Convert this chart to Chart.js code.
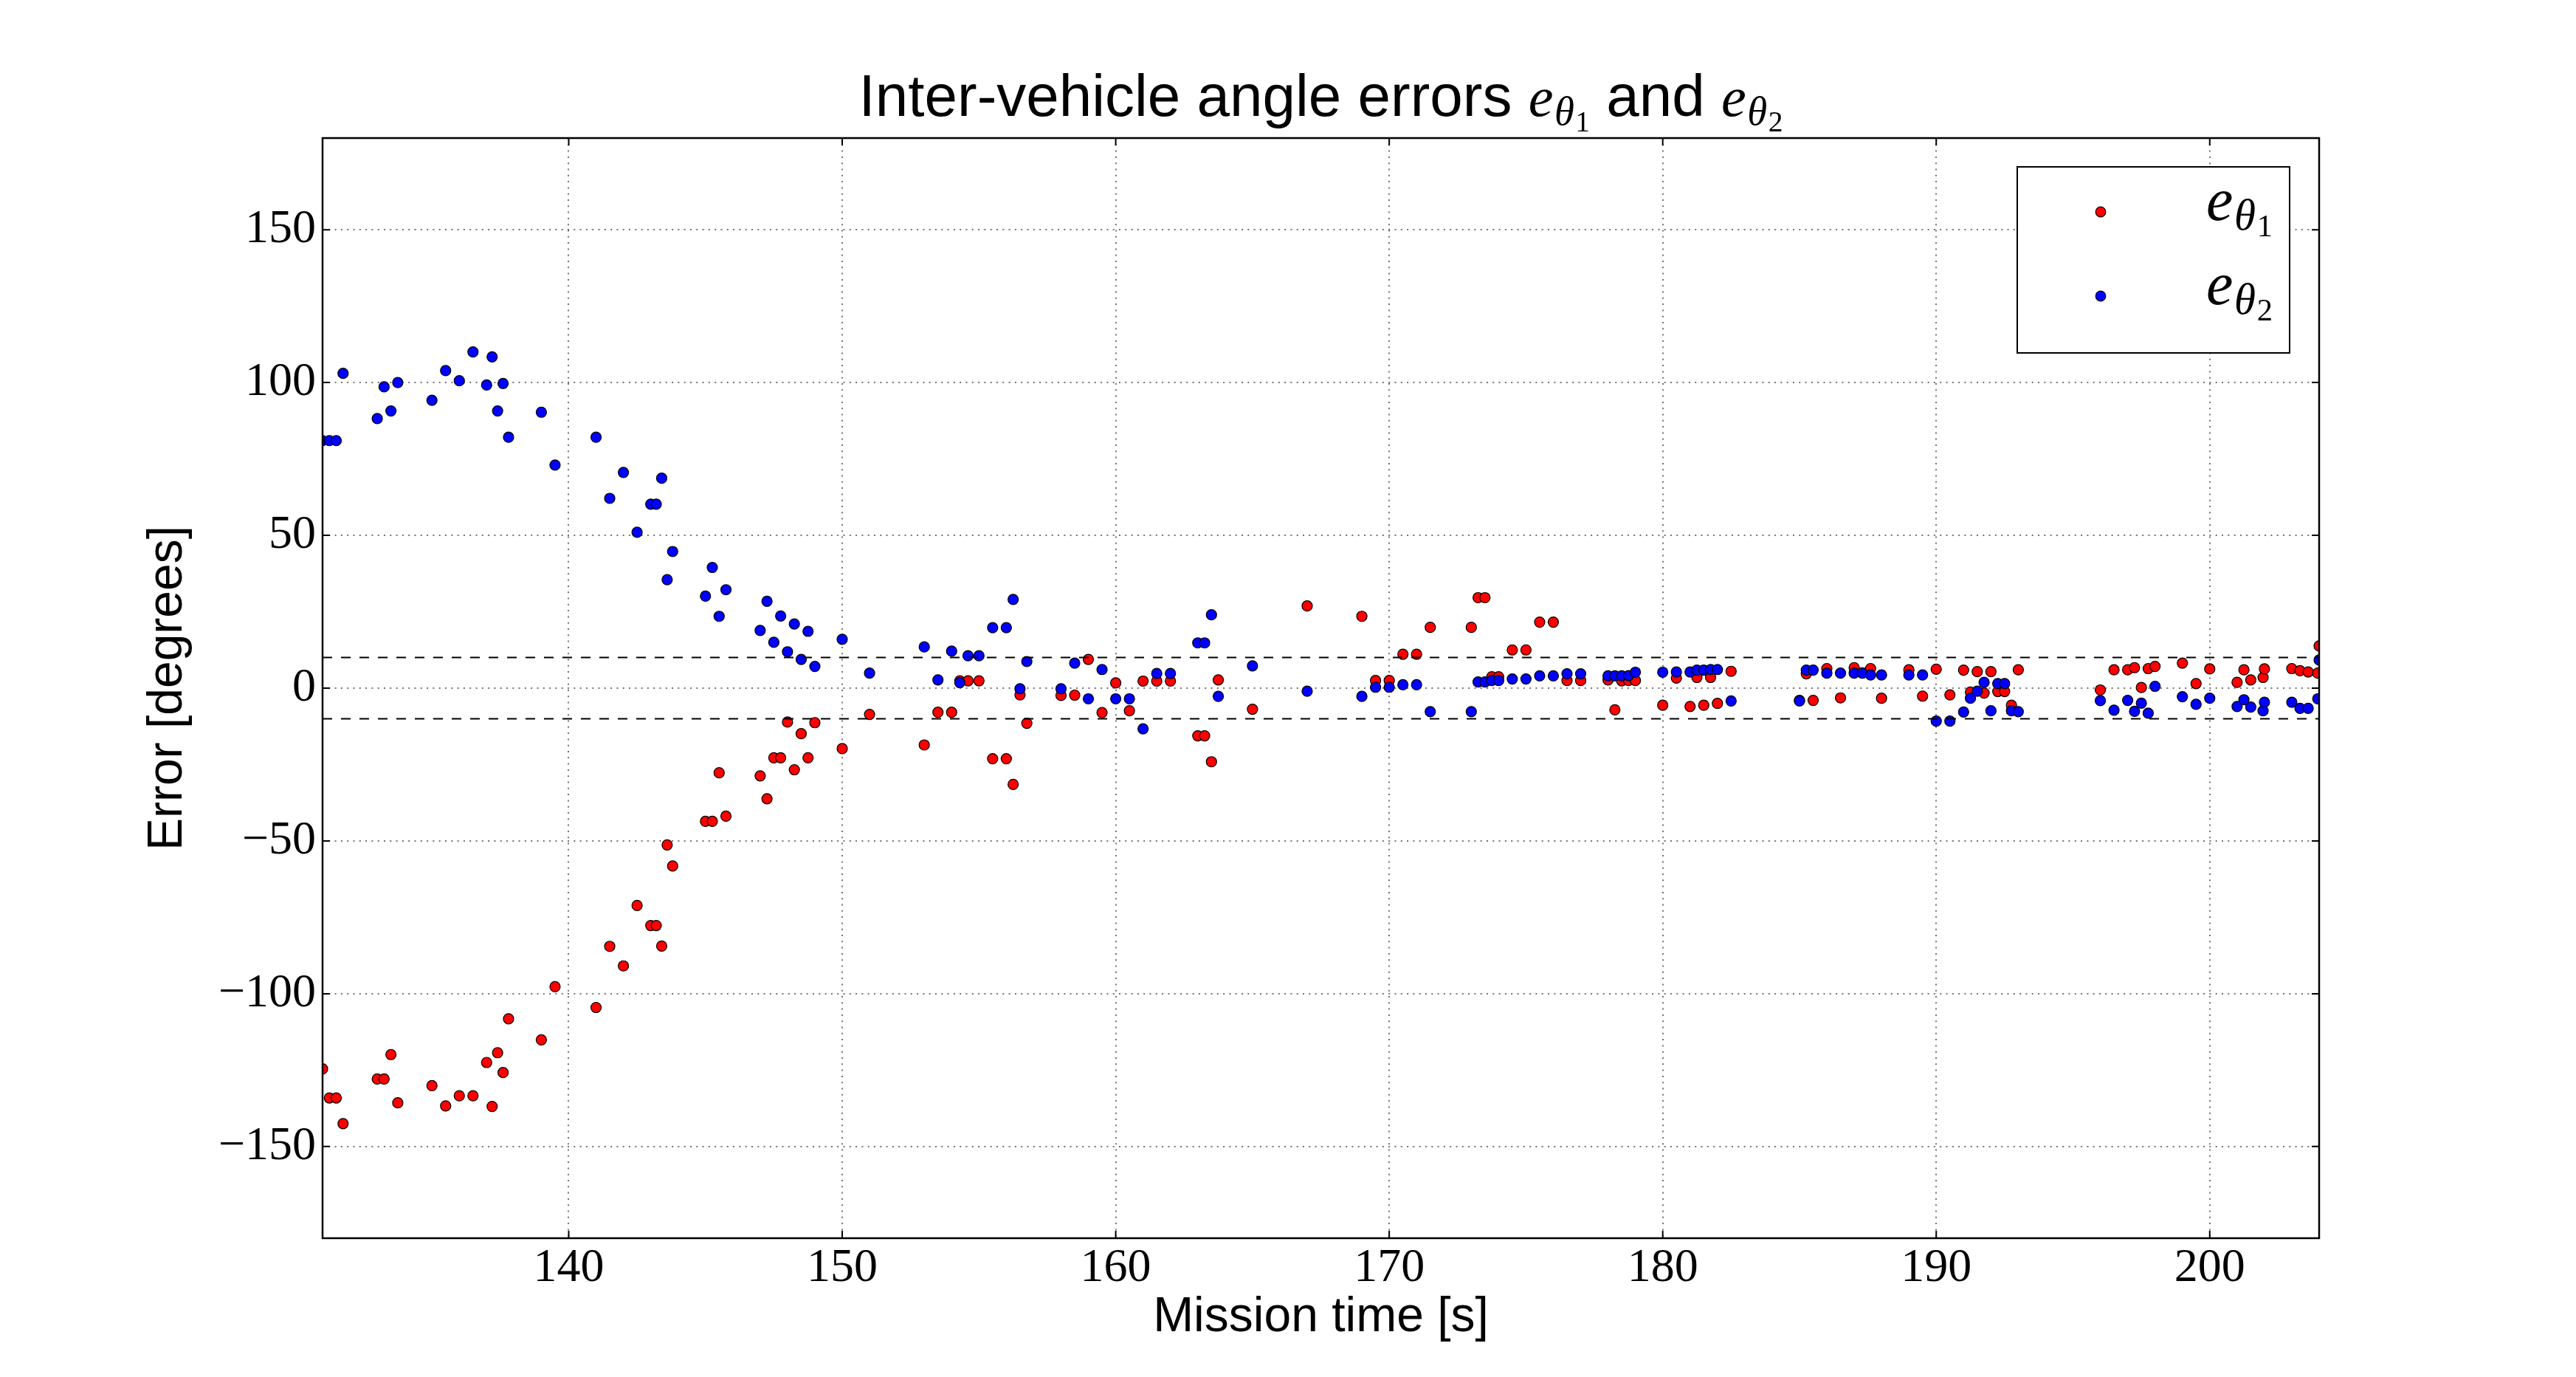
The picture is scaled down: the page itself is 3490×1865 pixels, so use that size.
<!DOCTYPE html>
<html>
<head>
<meta charset="utf-8">
<title>Inter-vehicle angle errors</title>
<script src="https://cdn.jsdelivr.net/npm/chart.js@4.4.1/dist/chart.umd.min.js"></script>
<style>
  html, body { margin: 0; padding: 0; background: #fff; }
  #wrap { width: 3490px; height: 1865px; }
</style>
</head>
<body>
<div id="wrap"><canvas id="errChart" width="3490" height="1865"></canvas></div>
<script>
// mission time [s], shared by both series
var missionTime = [
    131.0, 131.25, 131.5, 131.75, 133.0, 133.25, 133.5, 133.75, 135.0, 135.5,
    136.0, 136.5, 137.0, 137.2, 137.4, 137.6, 137.8, 139.0, 139.5, 141.0,
    141.5, 142.0, 142.5, 143.0, 143.2, 143.4, 143.6, 143.8, 145.0, 145.25,
    145.5, 145.75, 147.0, 147.25, 147.5, 147.75, 148.0, 148.25, 148.5, 148.75,
    149.0, 150.0, 151.0, 153.0, 153.5, 154.0, 154.3, 154.6, 155.0, 155.5,
    156.0, 156.25, 156.5, 156.75, 158.0, 158.5, 159.0, 159.5, 160.0, 160.5,
    161.0, 161.5, 162.0, 163.0, 163.25, 163.5, 163.75, 165.0, 167.0, 169.0,
    169.5, 170.0, 170.5, 171.0, 171.5, 173.0, 173.25, 173.5, 173.75, 174.0,
    174.5, 175.0, 175.5, 176.0, 176.5, 177.0, 178.0, 178.25, 178.5, 178.75,
    179.0, 180.0, 180.5, 181.0, 181.25, 181.5, 181.75, 182.0, 182.5, 185.0,
    185.25, 185.5, 186.0, 186.5, 187.0, 187.3, 187.6, 188.0, 189.0, 189.5,
    190.0, 190.5, 191.0, 191.25, 191.5, 191.75, 192.0, 192.25, 192.5, 192.75,
    193.0, 196.0, 196.5, 197.0, 197.25, 197.5, 197.75, 198.0, 199.0, 199.5,
    200.0, 201.0, 201.25, 201.5, 201.95, 202.0, 203.0, 203.3, 203.6, 203.95,
    204.0, 204.05
];

// e_theta1 [degrees] (red)
var eTheta1 = [
    -124.6, -134.1, -134.1, -142.5, -127.9, -127.9, -119.9, -135.7, -130.1, -136.7,
    -133.4, -133.4, -122.5, -136.9, -119.3, -125.8, -108.2, -115.1, -97.7, -104.5,
    -84.5, -90.9, -71.1, -77.7, -77.7, -84.4, -51.3, -58.2, -43.6, -43.6,
    -27.7, -41.9, -28.7, -36.2, -22.8, -22.8, -11.1, -26.7, -14.9, -22.8,
    -11.3, -19.8, -8.6, -18.6, -7.9, -7.9, 2.4, 2.4, 2.4, -23.1,
    -23.1, -31.5, -2.2, -11.5, -2.4, -2.3, 9.4, -8.0, 1.7, -7.4,
    2.3, 2.3, 2.3, -15.6, -15.6, -24.1, 2.7, -6.9, 26.9, 23.5,
    2.5, 2.5, 11.1, 11.1, 19.9, 19.9, 29.6, 29.6, 3.7, 3.7,
    12.5, 12.5, 21.6, 21.6, 2.5, 2.5, 2.7, -7.1, 2.4, 2.5,
    2.5, -5.6, 3.3, -6.0, 3.5, -5.6, 3.5, -5.0, 5.5, -4.0,
    4.7, -4.0, 6.4, -3.2, 6.7, 5.0, 6.4, -3.3, 6.0, -2.6,
    6.2, -2.2, 5.9, -1.3, 5.4, -1.6, 5.4, -1.1, -1.1, -5.6,
    6.0, -0.6, 6.0, 6.0, 6.7, 0.2, 6.4, 7.1, 8.2, 1.5,
    6.3, 1.9, 6.0, 2.7, 3.5, 6.3, 6.4, 5.7, 5.3, 4.9,
    13.8, -5.2
];

// e_theta2 [degrees] (blue)
var eTheta2 = [
    81.0, 81.0, 81.0, 103.0, 88.2, 98.6, 90.7, 100.0, 94.2, 103.9,
    100.6, 110.0, 99.2, 108.4, 90.7, 99.7, 82.1, 90.3, 73.0, 82.1,
    62.1, 70.6, 51.0, 60.2, 60.2, 68.7, 35.5, 44.7, 30.1, 39.5,
    23.5, 32.2, 18.9, 28.4, 15.0, 23.6, 11.9, 21.0, 9.4, 18.6,
    7.1, 16.0, 4.9, 13.5, 2.7, 12.1, 1.8, 10.6, 10.6, 19.8,
    19.8, 29.0, -0.2, 8.7, -0.2, 8.2, -3.5, 6.1, -3.5, -3.5,
    -13.3, 4.8, 4.8, 14.8, 14.8, 24.0, -2.7, 7.3, -1.0, -2.7,
    0.3, 0.3, 1.1, 1.1, -7.7, -7.7, 2.0, 2.0, 2.5, 2.5,
    3.0, 3.0, 4.0, 4.0, 4.7, 4.7, 4.0, 4.0, 4.0, 4.1,
    5.2, 5.2, 5.3, 5.3, 5.9, 5.9, 6.1, 6.1, -4.2, -4.2,
    5.9, 5.9, 4.9, 4.9, 4.9, 4.9, 4.3, 4.3, 4.3, 4.3,
    -10.8, -10.8, -7.8, -3.3, -1.0, 1.9, -7.4, 1.5, 1.5, -7.4,
    -7.7, -4.1, -7.2, -4.0, -7.6, -4.9, -8.2, 0.6, -2.8, -5.3,
    -3.3, -6.0, -3.8, -6.2, -7.4, -4.6, -4.6, -6.6, -6.6, -3.5,
    9.2, 0.6
];

// +/- 10 degree band
var bandLimits = [10, -10];

var xRange = [131, 204];
var yRange = [-180, 180];
var xTicks = [140, 150, 160, 170, 180, 190, 200];
var yTicks = [-150, -100, -50, 0, 50, 100, 150];

var seriesIndex = ['1', '2'];
var seriesColors = ['#ff0000', '#0000ff'];

var SANS = '"Liberation Sans", Arial, sans-serif';
var SERIF = '"Liberation Serif", "Times New Roman", serif';

function toPoints(ys) {
    return missionTime.map(function (t, i) { return { x: t, y: ys[i] }; });
}

function tickLabel(v) {
    return v < 0 ? '\u2212' + Math.abs(v) : String(v);
}

// draws e_{theta_k} with small subscripts, returns its width
function drawErrSymbol(ctx, x, y, size, idx, measureOnly) {
    ctx.font = 'italic ' + size + 'px ' + SERIF;
    var w1 = ctx.measureText('e').width;
    if (!measureOnly) ctx.fillText('e', x, y);
    var s2 = size * 0.72;
    ctx.font = 'italic ' + s2 + 'px ' + SERIF;
    var w2 = ctx.measureText('\u03b8').width;
    if (!measureOnly) ctx.fillText('\u03b8', x + w1 + size * 0.02, y + size * 0.16);
    var s3 = size * 0.52;
    ctx.font = s3 + 'px ' + SERIF;
    var w3 = ctx.measureText(idx).width;
    if (!measureOnly) ctx.fillText(idx, x + w1 + w2 + size * 0.04, y + size * 0.27);
    return w1 + w2 + w3 + size * 0.04;
}

var mathTitle = {
    id: 'mathTitle',
    afterDraw: function (chart) {
        var ctx = chart.ctx;
        var area = chart.chartArea;
        var textSize = 80, symSize = 76;
        var parts = [['t', 'Inter-vehicle angle errors '], ['s', seriesIndex[0]], ['t', ' and '], ['s', seriesIndex[1]]];
        ctx.save();
        ctx.fillStyle = '#000';
        ctx.textBaseline = 'alphabetic';
        ctx.textAlign = 'left';
        var total = 0;
        parts.forEach(function (p) {
            if (p[0] === 't') {
                ctx.font = textSize + 'px ' + SANS;
                total += ctx.measureText(p[1]).width;
            } else {
                total += drawErrSymbol(ctx, 0, 0, symSize, p[1], true);
            }
        });
        var x = (area.left + area.right) / 2 - total / 2;
        var y = area.top - 30;
        parts.forEach(function (p) {
            if (p[0] === 't') {
                ctx.font = textSize + 'px ' + SANS;
                ctx.fillText(p[1], x, y);
                x += ctx.measureText(p[1]).width;
            } else {
                x += drawErrSymbol(ctx, x, y, symSize, p[1], false);
            }
        });
        ctx.restore();
    }
};

// axes frame and inward tick marks on all four sides
var frameTicks = {
    id: 'frameTicks',
    afterDatasetsDraw: function (chart) {
        var ctx = chart.ctx;
        var a = chart.chartArea;
        var xs = chart.scales.x, ys = chart.scales.y;
        var len = 10;
        ctx.save();
        ctx.strokeStyle = '#000';
        ctx.lineWidth = 2;
        ctx.beginPath();
        xTicks.forEach(function (v) {
            var px = xs.getPixelForValue(v);
            ctx.moveTo(px, a.bottom); ctx.lineTo(px, a.bottom - len);
            ctx.moveTo(px, a.top); ctx.lineTo(px, a.top + len);
        });
        yTicks.forEach(function (v) {
            var py = ys.getPixelForValue(v);
            ctx.moveTo(a.left, py); ctx.lineTo(a.left + len, py);
            ctx.moveTo(a.right, py); ctx.lineTo(a.right - len, py);
        });
        ctx.stroke();
        ctx.lineWidth = 2.5;
        ctx.strokeRect(a.left, a.top, a.right - a.left, a.bottom - a.top);
        ctx.restore();
    }
};

// boxed legend in the upper right corner of the axes
var boxLegend = {
    id: 'boxLegend',
    afterDraw: function (chart) {
        var ctx = chart.ctx;
        var a = chart.chartArea;
        var w = 369, h = 252;
        var left = a.right - 40 - w, top = a.top + 39;
        ctx.save();
        ctx.fillStyle = '#fff';
        ctx.fillRect(left, top, w, h);
        ctx.strokeStyle = '#000';
        ctx.lineWidth = 2;
        ctx.strokeRect(left, top, w, h);
        var rows = [61, 175];
        for (var i = 0; i < 2; i++) {
            var ds = chart.data.datasets[i];
            ctx.beginPath();
            ctx.arc(left + 113, top + rows[i], 6.8, 0, Math.PI * 2);
            ctx.fillStyle = ds.backgroundColor;
            ctx.fill();
            ctx.lineWidth = 1.2;
            ctx.strokeStyle = '#000';
            ctx.stroke();
            ctx.fillStyle = '#000';
            ctx.textBaseline = 'alphabetic';
            ctx.textAlign = 'left';
            drawErrSymbol(ctx, left + 256, top + rows[i] + 11, 82, seriesIndex[i], false);
        }
        ctx.restore();
    }
};

var datasets = [
    {
        label: 'e_theta1',
        data: toPoints(eTheta1),
        backgroundColor: seriesColors[0],
        borderColor: '#000',
        borderWidth: 1.2,
        pointRadius: 7,
        order: 2,
        clip: 0
    },
    {
        label: 'e_theta2',
        data: toPoints(eTheta2),
        backgroundColor: seriesColors[1],
        borderColor: '#000',
        borderWidth: 1.2,
        pointRadius: 7,
        order: 1,
        clip: 0
    }
];

bandLimits.forEach(function (v) {
    datasets.push({
        label: 'band ' + v,
        data: [{ x: xRange[0], y: v }, { x: xRange[1], y: v }],
        showLine: true,
        borderColor: '#000',
        borderWidth: 2,
        borderDash: [13, 12],
        pointRadius: 0,
        order: 0,
        clip: 0
    });
});

var ctx = document.getElementById('errChart').getContext('2d');
window.errChart = new Chart(ctx, {
    type: 'scatter',
    data: { datasets: datasets },
    plugins: [mathTitle, frameTicks, boxLegend],
    options: {
        responsive: false,
        animation: false,
        events: [],
        layout: { padding: { top: 187, right: 348, left: 0, bottom: 0 } },
        plugins: {
            legend: { display: false },
            title: { display: false },
            tooltip: { enabled: false }
        },
        scales: {
            x: {
                type: 'linear',
                min: xRange[0],
                max: xRange[1],
                afterBuildTicks: function (axis) {
                    axis.ticks = xTicks.map(function (v) { return { value: v }; });
                },
                afterFit: function (axis) { axis.height = 188; },
                grid: { color: 'rgba(0,0,0,0.55)', lineWidth: 2, drawTicks: false },
                border: { display: false, dash: [2, 6.3] },
                ticks: {
                    color: '#000',
                    font: { family: SERIF, size: 64 },
                    padding: 3,
                    maxRotation: 0,
                    callback: tickLabel
                },
                title: {
                    display: true,
                    text: 'Mission time [s]',
                    color: '#000',
                    font: { family: SANS, size: 66 },
                    padding: { top: 0, bottom: 41 }
                }
            },
            y: {
                type: 'linear',
                min: yRange[0],
                max: yRange[1],
                afterBuildTicks: function (axis) {
                    axis.ticks = yTicks.map(function (v) { return { value: v }; });
                },
                afterFit: function (axis) { axis.width = 437; },
                grid: { color: 'rgba(0,0,0,0.55)', lineWidth: 2, drawTicks: false },
                border: { display: false, dash: [2, 6.3] },
                ticks: {
                    color: '#000',
                    font: { family: SERIF, size: 64 },
                    padding: 9,
                    callback: tickLabel
                },
                title: {
                    display: true,
                    text: 'Error [degrees]',
                    color: '#000',
                    font: { family: SANS, size: 66 },
                    padding: { top: 188, bottom: 0 }
                }
            }
        }
    }
});
</script>
</body>
</html>
